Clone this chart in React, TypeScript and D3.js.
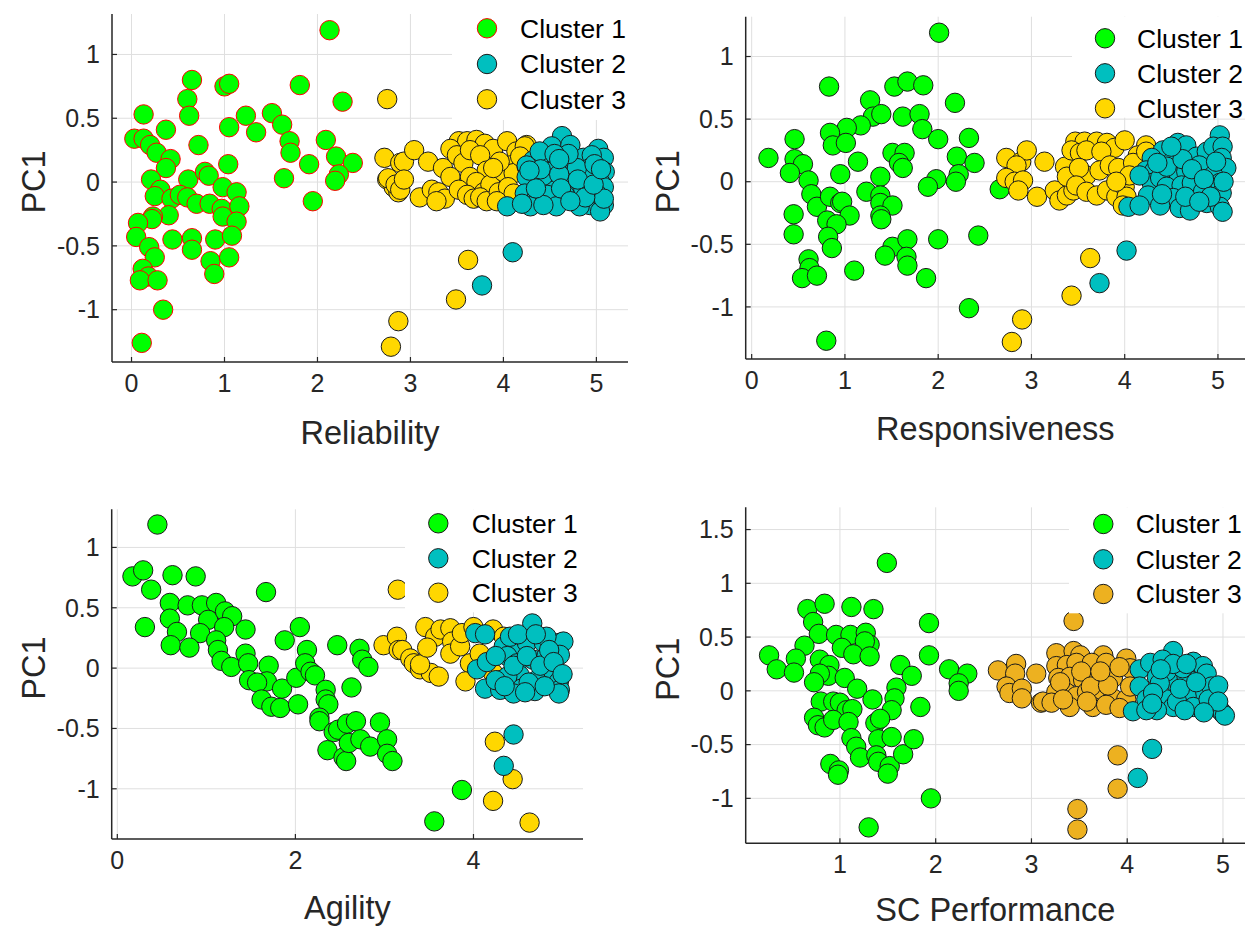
import React from "react";
import * as d3 from "d3";

// ---------- DATA ----------
const legendLabels = ["Cluster 1", "Cluster 2", "Cluster 3"];
const yLabel = "PC1";
const yTicksA = [-1, -0.5, 0, 0.5, 1];
const yTicksB = [-1, -0.5, 0, 0.5, 1, 1.5];
const xTicksA = [0, 1, 2, 3, 4, 5];
const xTicksB = [0, 2, 4];
const xTicksC = [1, 2, 3, 4, 5];

// Reliability vs PC1
const relC1: number[][] = [[2.13,1.19],[0.65,0.80],[0.60,0.65],[0.62,0.52],[0.13,0.53],[1.0,0.75],[1.05,0.77],[1.81,0.76],[2.27,0.63],[0.37,0.41],[1.05,0.43],[1.23,0.52],[1.34,0.39],[1.51,0.54],[1.62,0.45],[1.70,0.32],[1.71,0.23],[2.09,0.33],[2.20,0.20],[2.38,0.15],[2.23,0.06],[2.19,0.01],[1.91,0.14],[1.64,0.03],[1.95,-0.15],[0.03,0.34],[0.13,0.34],[0.20,0.29],[0.27,0.23],[0.42,0.18],[0.37,0.11],[0.72,0.29],[1.04,0.14],[0.21,0.02],[0.31,-0.06],[0.25,-0.11],[0.61,0.02],[0.79,0.08],[0.83,0.05],[0.98,-0.04],[1.13,-0.08],[0.43,-0.13],[0.52,-0.10],[0.60,-0.12],[0.70,-0.17],[0.84,-0.17],[0.97,-0.21],[0.98,-0.27],[1.16,-0.19],[1.13,-0.31],[0.40,-0.26],[0.23,-0.27],[0.22,-0.29],[0.07,-0.32],[0.05,-0.43],[0.19,-0.51],[0.25,-0.59],[0.12,-0.68],[0.18,-0.74],[0.09,-0.77],[0.28,-0.77],[0.44,-0.45],[0.65,-0.44],[0.65,-0.53],[0.90,-0.45],[1.08,-0.42],[0.85,-0.62],[0.89,-0.72],[1.05,-0.59],[0.34,-1.0],[0.11,-1.26]];
const relC2: number[][] = [[4.10,-0.55],[3.77,-0.81],[4.04,-0.19],[4.63,0.36],[4.52,0.28],[4.72,0.29],[4.43,0.20],[4.32,0.17],[4.25,0.13],[4.57,0.13],[4.75,0.16],[4.86,0.19],[5.02,0.26],[5.08,0.19],[5.09,0.08],[5.04,0.0],[5.08,-0.04],[4.95,0.21],[4.93,0.11],[4.90,0.07],[4.32,-0.01],[4.25,0.04],[4.23,-0.09],[4.36,-0.12],[4.50,0.0],[4.65,-0.01],[4.47,-0.10],[4.75,-0.08],[4.86,-0.06],[4.66,-0.10],[4.93,-0.18],[5.08,-0.18],[4.82,-0.19],[4.57,-0.19],[4.29,-0.19],[4.43,-0.18],[5.04,-0.23],[4.50,0.08],[4.68,0.04],[4.79,0.11],[4.43,0.05],[5.0,-0.09],[5.08,-0.13],[4.20,-0.17],[4.39,0.24],[4.40,0.10],[4.60,0.06],[4.62,-0.05],[4.80,0.02],[4.88,-0.12],[4.70,0.22],[4.98,0.14],[4.55,0.22],[4.35,-0.05],[4.97,-0.02],[4.72,-0.15],[4.60,0.18],[5.05,0.10],[4.28,0.09]];
const relC3: number[][] = [[2.75,0.65],[2.72,0.19],[2.75,0.02],[2.82,-0.04],[2.87,-0.08],[2.89,0.15],[2.87,-1.09],[2.79,-1.29],[3.62,-0.61],[3.49,-0.92],[2.93,0.16],[3.04,0.25],[3.19,0.16],[2.76,0.03],[2.84,-0.02],[2.89,-0.06],[2.93,0.02],[3.10,-0.12],[3.23,-0.06],[3.30,-0.08],[3.37,-0.13],[3.28,-0.15],[3.35,0.11],[3.43,0.04],[3.52,0.32],[3.61,0.32],[3.71,0.33],[3.80,0.30],[3.89,0.26],[3.43,0.26],[3.50,0.21],[3.57,0.15],[3.64,0.25],[3.75,0.21],[3.82,0.09],[3.64,0.04],[3.71,0.0],[3.79,-0.08],[3.86,-0.02],[3.52,-0.06],[3.61,-0.10],[3.68,-0.13],[3.75,-0.12],[3.82,-0.15],[4.04,0.32],[4.25,0.29],[4.14,0.24],[4.07,0.13],[4.0,0.08],[4.11,0.07],[3.95,-0.08],[4.05,-0.04],[4.11,-0.09],[3.93,-0.15],[3.96,0.16],[3.89,0.11],[4.23,0.28],[4.18,0.20],[4.25,0.12]];

// Responsiveness vs PC1
const resC1: number[][] = [[2.01,1.19],[0.83,0.76],[1.53,0.76],[1.67,0.80],[1.84,0.77],[2.18,0.63],[1.27,0.65],[1.30,0.52],[1.39,0.54],[1.62,0.52],[1.80,0.54],[1.83,0.42],[1.17,0.45],[1.02,0.43],[0.84,0.39],[0.87,0.29],[1.01,0.31],[0.46,0.34],[2.0,0.34],[2.33,0.35],[0.18,0.19],[0.46,0.18],[0.55,0.14],[0.41,0.07],[0.61,0.01],[1.14,0.16],[0.95,0.06],[1.51,0.23],[1.64,0.23],[1.58,0.15],[1.62,0.11],[2.20,0.20],[2.39,0.15],[2.22,0.06],[2.19,0.0],[1.38,0.04],[1.98,0.02],[1.89,-0.04],[2.66,-0.06],[0.64,-0.10],[0.70,-0.20],[0.84,-0.12],[0.95,-0.17],[0.97,-0.16],[1.05,-0.27],[0.81,-0.31],[0.91,-0.34],[0.82,-0.44],[0.86,-0.53],[0.45,-0.26],[0.45,-0.42],[1.23,-0.08],[1.38,-0.11],[1.38,-0.17],[1.51,-0.19],[1.38,-0.27],[1.39,-0.30],[0.61,-0.62],[0.62,-0.69],[0.54,-0.77],[0.70,-0.75],[1.10,-0.71],[1.51,-0.52],[1.43,-0.59],[1.67,-0.46],[1.66,-0.60],[1.67,-0.67],[1.87,-0.77],[2.0,-0.46],[2.43,-0.43],[2.33,-1.01],[0.80,-1.27]];
const resC2: number[][] = [[4.02,-0.55],[3.73,-0.81],[5.02,0.37],[4.04,-0.20],[4.41,0.25],[4.57,0.31],[4.66,0.29],[4.77,0.20],[4.88,0.24],[4.95,0.28],[5.05,0.28],[5.04,0.19],[5.09,0.11],[4.29,0.19],[4.23,0.09],[4.32,0.09],[4.52,0.17],[4.56,0.04],[4.66,0.08],[4.80,0.13],[4.95,0.05],[5.02,-0.01],[5.04,-0.09],[4.29,-0.01],[4.38,0.03],[4.45,-0.04],[4.61,-0.03],[4.72,-0.01],[4.84,-0.08],[4.52,-0.13],[4.25,-0.11],[4.16,-0.19],[4.38,-0.19],[4.59,-0.21],[4.70,-0.23],[4.88,-0.17],[5.02,-0.20],[5.05,-0.24],[4.16,0.05],[4.45,0.12],[4.62,0.18],[4.72,0.10],[4.85,0.02],[4.92,-0.12],[4.40,-0.10],[4.65,-0.12],[4.98,0.16],[4.50,0.28],[4.80,-0.16],[4.35,0.15],[5.06,0.0]];
const resC3: number[][] = [[3.63,-0.61],[3.43,-0.91],[2.90,-1.10],[2.79,-1.28],[2.73,0.19],[2.89,0.16],[2.95,0.25],[2.84,0.13],[2.73,0.03],[2.82,0.0],[2.91,0.01],[2.86,-0.07],[3.14,0.16],[3.06,-0.12],[3.25,-0.07],[3.30,-0.15],[3.38,-0.11],[3.45,-0.07],[3.36,0.12],[3.38,0.04],[3.47,0.32],[3.57,0.32],[3.70,0.32],[3.81,0.31],[3.89,0.27],[3.43,0.25],[3.52,0.23],[3.59,0.25],[3.75,0.24],[3.59,0.05],[3.73,0.09],[3.84,0.13],[3.93,0.11],[3.51,0.11],[3.48,-0.03],[3.59,-0.08],[3.70,-0.11],[3.81,-0.07],[3.91,-0.12],[4.0,-0.04],[4.02,-0.12],[3.98,-0.19],[4.0,0.33],[4.23,0.29],[4.14,0.21],[4.09,0.15],[4.23,0.24],[4.05,0.05],[3.91,0.0]];

// Agility vs PC1
const agiC1: number[][] = [[0.45,1.19],[0.17,0.76],[0.29,0.81],[0.62,0.77],[0.88,0.76],[0.38,0.65],[1.67,0.63],[0.59,0.54],[0.79,0.52],[0.95,0.52],[1.11,0.54],[0.59,0.41],[1.02,0.40],[1.21,0.47],[1.29,0.43],[1.20,0.34],[0.31,0.34],[0.67,0.30],[0.93,0.29],[0.60,0.19],[0.81,0.17],[1.11,0.23],[1.13,0.15],[1.17,0.06],[1.28,0.01],[1.44,0.32],[1.44,0.12],[1.47,0.04],[1.88,0.23],[2.05,0.34],[1.70,0.02],[1.68,-0.11],[1.48,-0.10],[1.57,-0.12],[1.62,-0.26],[1.73,-0.32],[1.83,-0.33],[1.85,-0.17],[2.03,-0.30],[2.01,-0.08],[2.13,0.15],[2.11,0.04],[2.17,-0.03],[2.22,-0.06],[2.47,0.19],[2.72,0.16],[2.75,0.07],[2.82,0.01],[2.63,-0.16],[2.34,-0.18],[2.34,-0.26],[2.37,-0.30],[2.27,-0.41],[2.27,-0.44],[2.43,-0.53],[2.48,-0.51],[2.58,-0.46],[2.68,-0.44],[2.36,-0.68],[2.54,-0.74],[2.57,-0.77],[2.60,-0.62],[2.73,-0.59],[2.84,-0.65],[2.95,-0.45],[3.03,-0.59],[3.03,-0.71],[3.09,-0.77],[3.87,-1.01],[3.56,-1.27]];
const agiC2: number[][] = [[4.45,-0.55],[4.34,-0.81],[4.66,0.37],[4.02,0.29],[4.13,0.28],[4.34,0.18],[4.52,0.18],[4.60,0.21],[4.79,0.21],[4.97,0.21],[5.01,0.22],[4.04,-0.01],[4.15,0.05],[4.38,0.10],[4.49,0.04],[4.67,0.07],[4.82,0.10],[4.97,0.11],[4.52,-0.06],[4.71,-0.10],[4.88,-0.01],[4.96,-0.11],[4.38,-0.07],[4.13,-0.17],[4.30,-0.18],[4.54,-0.17],[4.69,-0.19],[4.97,-0.18],[4.96,-0.21],[4.45,-0.21],[4.41,0.26],[4.82,0.26],[4.25,0.10],[4.45,0.02],[4.60,0.10],[4.75,0.02],[4.85,0.15],[4.62,-0.12],[4.80,-0.15],[4.25,-0.10],[4.50,0.28],[4.70,0.28],[4.90,0.05],[5.0,-0.05],[4.58,-0.20],[4.35,-0.15]];
const agiC3: number[][] = [[2.99,0.19],[3.14,0.26],[3.16,0.15],[3.15,0.65],[4.24,-0.61],[4.44,-0.92],[4.22,-1.10],[4.63,-1.28],[3.20,0.15],[3.29,0.08],[3.33,0.04],[3.40,-0.01],[3.52,-0.04],[3.61,-0.07],[3.40,0.03],[3.46,0.34],[3.57,0.26],[3.48,0.17],[3.63,0.32],[3.74,0.33],[3.76,0.22],[3.74,0.12],[3.85,0.18],[3.87,0.29],[4.0,0.34],[4.22,0.32],[4.34,0.26],[3.96,0.04],[3.91,-0.11],[4.07,0.12],[4.22,-0.04],[4.30,-0.10]];

// SC Performance vs PC1
const scpC1: number[][] = [[1.49,1.19],[0.66,0.76],[0.84,0.81],[1.12,0.78],[1.35,0.76],[0.72,0.64],[1.93,0.63],[0.78,0.53],[0.96,0.52],[1.11,0.52],[1.27,0.54],[1.31,0.43],[1.26,0.46],[0.63,0.42],[1.02,0.40],[1.14,0.34],[1.31,0.32],[0.26,0.33],[0.34,0.20],[0.54,0.30],[0.52,0.17],[0.79,0.29],[0.89,0.24],[0.88,0.14],[0.79,0.16],[0.73,0.08],[1.05,0.12],[1.18,0.02],[1.93,0.33],[1.63,0.24],[1.75,0.14],[2.14,0.20],[2.33,0.16],[2.24,0.07],[2.24,0.0],[0.80,-0.10],[0.93,-0.10],[1.0,-0.11],[1.07,-0.18],[1.13,-0.17],[1.34,-0.08],[1.59,0.03],[1.57,-0.07],[1.54,-0.18],[1.84,-0.15],[0.73,-0.25],[0.77,-0.32],[0.84,-0.34],[0.93,-0.27],[1.09,-0.29],[1.37,-0.30],[1.42,-0.26],[1.12,-0.44],[1.17,-0.52],[1.21,-0.62],[1.40,-0.45],[1.38,-0.60],[1.40,-0.66],[1.54,-0.43],[1.52,-0.70],[1.50,-0.77],[1.66,-0.59],[1.77,-0.45],[0.90,-0.68],[0.99,-0.74],[0.98,-0.78],[1.95,-1.0],[1.30,-1.27]];
const scpC2: number[][] = [[4.26,-0.54],[4.11,-0.81],[4.48,0.37],[4.06,-0.19],[4.13,0.20],[4.24,0.26],[4.37,0.29],[4.31,0.13],[4.13,0.04],[4.20,-0.08],[4.41,-0.08],[4.51,0.07],[4.62,0.13],[4.69,0.27],[4.79,0.23],[4.83,0.16],[4.90,0.01],[4.76,0.01],[4.62,-0.05],[4.97,-0.18],[4.69,-0.15],[4.48,-0.15],[4.31,-0.18],[4.20,-0.18],[4.41,0.18],[4.58,0.21],[5.0,-0.21],[5.02,-0.23],[4.88,0.04],[4.34,0.07],[4.27,-0.02],[4.52,-0.10],[4.55,0.02],[4.72,0.08],[4.85,-0.08],[4.48,0.25],[4.62,0.25],[4.95,0.05],[4.95,-0.10],[4.35,0.20],[4.26,-0.12],[4.80,-0.20],[4.60,-0.18]];
const scpC3: number[][] = [[2.65,0.19],[2.84,0.25],[2.83,0.16],[2.74,0.04],[2.77,-0.02],[2.90,0.02],[2.90,-0.07],[3.05,0.16],[3.10,-0.11],[3.44,0.65],[3.12,-0.10],[3.26,0.35],[3.44,0.37],[3.51,0.33],[3.75,0.33],[3.99,0.30],[3.26,0.23],[3.37,0.24],[3.47,0.26],[3.63,0.26],[3.78,0.26],[3.28,0.12],[3.40,0.13],[3.54,0.10],[3.68,0.10],[3.85,0.12],[4.03,0.21],[3.26,-0.01],[3.37,-0.02],[3.47,-0.05],[3.58,-0.01],[3.71,-0.08],[3.85,-0.07],[3.99,-0.08],[3.21,-0.11],[3.40,-0.15],[3.64,-0.15],[3.78,-0.13],[4.03,0.04],[3.92,-0.16],[3.90,-0.60],[3.90,-0.91],[3.48,-1.10],[3.48,-1.29],[3.30,0.08],[3.52,0.18],[3.62,0.04],[3.80,0.05],[3.92,0.22],[3.58,-0.10],[3.33,-0.08],[3.72,0.18]];

// ---------- STYLE ----------
const FONT = "'Liberation Sans', Arial, Helvetica, sans-serif";
const AX = "#262626";
const GRID = "#dfdfdf";
const GREEN = "#00FF00";
const CYAN = "#00BFBF";
const GOLD = "#FFD700";
const ORANGE = "#EDB120";
const R = 9.7;

interface PanelCfg {
  left: number; right: number; top: number; bottom: number;
  xDomain: [number, number]; yDomain: [number, number];
  xTicks: number[]; yTicks: number[]; xLabel: string; labelGap: number;
  c1: number[][]; c2: number[][]; c3: number[][];
  c1Stroke: string; c3Fill: string;
  legend: { x: number; y: number; w: number; h: number; mx: number; tx: number; rows: number[] };
}

const panels: PanelCfg[] = [
  {
    left: 112, right: 628, top: 14, bottom: 362,
    xDomain: [-0.21, 5.34], yDomain: [-1.41, 1.317],
    xTicks: xTicksA, yTicks: yTicksA, xLabel: "Reliability", labelGap: 82,
    c1: relC1, c2: relC2, c3: relC3, c1Stroke: "#FF0000", c3Fill: GOLD,
    legend: { x: 452, y: 14, w: 176, h: 106, mx: 487, tx: 520, rows: [28.3, 64, 99.3] },
  },
  {
    left: 745.7, right: 1245, top: 16.7, bottom: 359,
    xDomain: [-0.064, 5.29], yDomain: [-1.416, 1.318],
    xTicks: xTicksA, yTicks: yTicksA, xLabel: "Responsiveness", labelGap: 81,
    c1: resC1, c2: resC2, c3: resC3, c1Stroke: "#1a1a1a", c3Fill: GOLD,
    legend: { x: 1072, y: 16.7, w: 175, h: 101, mx: 1105, tx: 1137, rows: [38.3, 73.3, 108.3] },
  },
  {
    left: 111.7, right: 583, top: 509.3, bottom: 839,
    xDomain: [-0.063, 5.23], yDomain: [-1.416, 1.316],
    xTicks: xTicksB, yTicks: yTicksA, xLabel: "Agility", labelGap: 80,
    c1: agiC1, c2: agiC2, c3: agiC3, c1Stroke: "#1a1a1a", c3Fill: GOLD,
    legend: { x: 405, y: 509.3, w: 178, h: 103, mx: 438.3, tx: 471.7, rows: [523.3, 558.3, 592.7] },
  },
  {
    left: 745.7, right: 1245, top: 507.3, bottom: 843.3,
    xDomain: [0.016, 5.23], yDomain: [-1.418, 1.707],
    xTicks: xTicksC, yTicks: yTicksB, xLabel: "SC Performance", labelGap: 78,
    c1: scpC1, c2: scpC2, c3: scpC3, c1Stroke: "#1a1a1a", c3Fill: ORANGE,
    legend: { x: 1069, y: 507.3, w: 178, h: 106, mx: 1103.3, tx: 1135.7, rows: [524, 559.3, 594] },
  },
];

const fmt = (v: number) => (v < 0 ? "-" : "") + String(Math.abs(v));

function Panel({ p }: { p: PanelCfg }) {
  const x = d3.scaleLinear().domain(p.xDomain).range([p.left, p.right]);
  const y = d3.scaleLinear().domain(p.yDomain).range([p.bottom, p.top]);
  const groups = [
    { pts: p.c1, fill: GREEN, stroke: p.c1Stroke },
    { pts: p.c3, fill: p.c3Fill, stroke: "#1a1a1a" },
    { pts: p.c2, fill: CYAN, stroke: "#1a1a1a" },
  ];
  const legendItems = [
    { fill: GREEN, stroke: p.c1Stroke },
    { fill: CYAN, stroke: "#1a1a1a" },
    { fill: p.c3Fill, stroke: "#1a1a1a" },
  ];
  const L = p.legend;
  return (
    <g>
      {p.xTicks.map((t) => (
        <line key={"gx" + t} x1={x(t)} x2={x(t)} y1={p.top} y2={p.bottom} stroke={GRID} strokeWidth={1} />
      ))}
      {p.yTicks.map((t) => (
        <line key={"gy" + t} x1={p.left} x2={p.right} y1={y(t)} y2={y(t)} stroke={GRID} strokeWidth={1} />
      ))}
      {groups.map((g, gi) =>
        g.pts.map((d, i) => (
          <circle key={gi + "-" + i} cx={x(d[0])} cy={y(d[1])} r={R} fill={g.fill} stroke={g.stroke} strokeWidth={1} />
        ))
      )}
      <rect x={L.x} y={L.y} width={L.w} height={L.h} fill="#ffffff" />
      {legendItems.map((it, i) => (
        <g key={"lg" + i}>
          <circle cx={L.mx} cy={L.rows[i]} r={R} fill={it.fill} stroke={it.stroke} strokeWidth={1} />
          <text x={L.tx} y={L.rows[i]} dy="0.35em" fontSize={26.5} fill="#000" fontFamily={FONT}>
            {legendLabels[i]}
          </text>
        </g>
      ))}
      <line x1={p.left} x2={p.right} y1={p.bottom} y2={p.bottom} stroke={AX} strokeWidth={1.5} />
      <line x1={p.left} x2={p.left} y1={p.top} y2={p.bottom} stroke={AX} strokeWidth={1.5} />
      {p.xTicks.map((t) => (
        <g key={"tx" + t}>
          <line x1={x(t)} x2={x(t)} y1={p.bottom} y2={p.bottom - 5} stroke={AX} strokeWidth={1.2} />
          <text x={x(t)} y={p.bottom + 30} textAnchor="middle" fontSize={25} fill={AX} fontFamily={FONT}>
            {fmt(t)}
          </text>
        </g>
      ))}
      {p.yTicks.map((t) => (
        <g key={"ty" + t}>
          <line x1={p.left} x2={p.left + 5} y1={y(t)} y2={y(t)} stroke={AX} strokeWidth={1.2} />
          <text x={p.left - 12} y={y(t)} dy="0.35em" textAnchor="end" fontSize={25} fill={AX} fontFamily={FONT}>
            {fmt(t)}
          </text>
        </g>
      ))}
      <text x={(p.left + p.right) / 2} y={p.bottom + p.labelGap} textAnchor="middle" fontSize={32.5} fill={AX} fontFamily={FONT}>
        {p.xLabel}
      </text>
      <text
        transform={`translate(${p.left - 67},${(p.top + p.bottom) / 2 - 6}) rotate(-90)`}
        textAnchor="middle" fontSize={32.5} fill={AX} fontFamily={FONT}
      >
        {yLabel}
      </text>
    </g>
  );
}

export default function App() {
  return (
    <svg width={1247} height={927} style={{ position: "absolute", left: 0, top: 0, background: "#fff" }}>
      <rect width={1247} height={927} fill="#fff" />
      {panels.map((p, i) => (
        <Panel key={i} p={p} />
      ))}
    </svg>
  );
}
